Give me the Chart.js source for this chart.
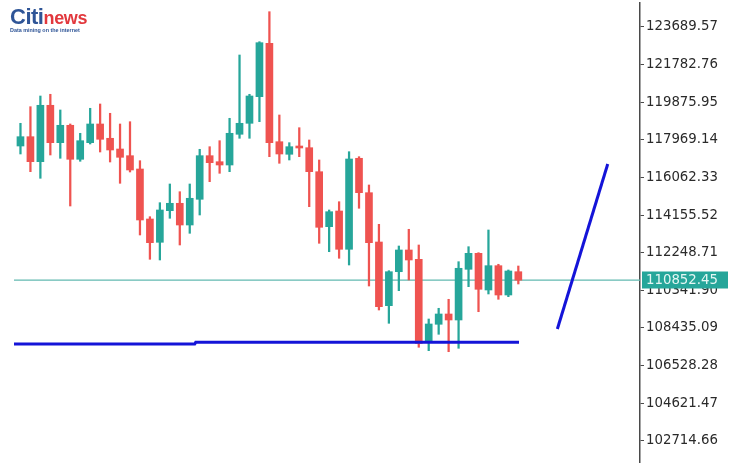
<!DOCTYPE html>
<html>
<head>
<meta charset="utf-8">
<script src="https://cdn.jsdelivr.net/npm/chart.js@4.4.1/dist/chart.umd.min.js"></script>
<style>
  html, body { margin: 0; padding: 0; background: #ffffff; }
  #wrap { position: relative; width: 740px; height: 466px; }
  #logo { position: absolute; left: 10px; top: 6px; font-family: 'Liberation Sans', Arial, sans-serif; line-height: 1; }
  #logo .citi { color: #2f5597; font-weight: bold; font-size: 22px; letter-spacing: -0.5px; }
  #logo .news { color: #e2383d; font-size: 18px; font-weight: bold; letter-spacing: -0.3px; }
  #logo .tag { color: #2f5597; font-weight: bold; font-size: 5.4px; margin-top: 0px; }
</style>
</head>
<body>
<div id="wrap">
  <canvas id="c" width="740" height="466"></canvas>
  <div id="logo"><span class="citi">Citi</span><span class="news">news</span><div class="tag">Data mining on the internet</div></div>
</div>
<script>
// Daily OHLC candles
const opens  = [117656,118128,116860,119720,117824,118706,116982,117824,118772,118047,117504,117165,116490,113955,112774,114376,114751,113651,114954,117165,116860,116693,118250,118807,120156,122863,117874,117236,117656,117570,116353,113565,114361,112419,117033,115289,112789,109560,111283,112384,111912,107734,108617,109139,108835,111405,112216,110356,111588,110102,111283];
const highs  = [118807,119649,120191,120278,119482,118772,118300,119568,119786,119314,118772,118888,116911,114072,114782,115730,115339,115730,117489,117621,117925,119061,122270,120278,122944,124465,119228,117824,118584,117961,116947,114412,114832,117367,117114,115679,113686,111334,112586,113433,112637,108885,109428,109884,111790,112551,112247,113398,111659,111370,111572];
const lows   = [117251,116353,116019,117200,117033,114614,116881,117758,117352,116845,115765,116338,113144,111912,111877,113991,112637,113230,114158,115846,116272,116353,118047,118047,118888,117114,116779,116947,117114,114579,112723,112297,111963,111623,114498,110558,109341,108667,110320,110863,107451,107278,108110,107227,107400,110523,109255,110153,109884,110016,110660];
const closes = [118128,116860,119720,117824,118706,116982,117925,118772,117996,117454,117083,116440,113905,112754,114412,114751,113651,115005,117165,116810,116693,118300,118807,120191,122894,117824,117251,117621,117555,116353,113534,114325,112419,116997,115289,112754,109509,111283,112384,111877,107653,108632,109139,108835,111456,112216,110391,111588,110102,111319,110852.45];

// Price axis labels
const tickLabels = ['102714.66','104621.47','106528.28','108435.09','110341.90','112248.71','114155.52','116062.33','117969.14','119875.95','121782.76','123689.57'];

// Hand-drawn support line and trend stroke (x in candle index units)
const supportX = [-0.65, 17.5, 17.6, 50.07];
const supportY = [107618, 107618, 107700, 107700];
const trendX = [53.92, 58.98];
const trendY = [108378, 116744];

const UP = '#26a69a';
const DOWN = '#ef5350';
const lastPrice = closes[closes.length - 1];

const idx = opens.map((_, i) => i);
const bodies = idx.map(i => ({ x: i, y: [opens[i], closes[i]] }));
const wicks = idx.map(i => ({ x: i, y: [lows[i], highs[i]] }));
const candleColor = idx.map(i => closes[i] >= opens[i] ? UP : DOWN);

const xMin = -0.65, xMax = 62.22;

const priceTag = {
  id: 'priceTag',
  afterDraw(chart) {
    const y = chart.scales.y.getPixelForValue(lastPrice);
    const ctx = chart.ctx;
    const left = chart.chartArea.right + 2;
    ctx.save();
    ctx.fillStyle = '#26a69a';
    ctx.fillRect(left, Math.round(y) - 8.5, 86, 17);
    ctx.fillStyle = '#e4f6f3';
    ctx.font = '13.3px "DejaVu Sans"';
    ctx.textBaseline = 'middle';
    ctx.textAlign = 'left';
    ctx.fillText(lastPrice.toFixed(2), left + 4, Math.round(y) + 0.5);
    ctx.restore();
  }
};

new Chart(document.getElementById('c'), {
  type: 'bar',
  data: {
    datasets: [
      {
        type: 'line',
        data: supportX.map((x, i) => ({ x, y: supportY[i] })),
        borderColor: '#1414d8',
        borderWidth: 3,
        pointRadius: 0,
        tension: 0,
        order: 0
      },
      {
        type: 'line',
        data: trendX.map((x, i) => ({ x, y: trendY[i] })),
        borderColor: '#1414d8',
        borderWidth: 3,
        pointRadius: 0,
        tension: 0,
        order: 0
      },
      {
        data: bodies,
        backgroundColor: candleColor,
        barThickness: 7,
        grouped: false,
        borderWidth: 0,
        borderSkipped: false,
        order: 1
      },
      {
        data: wicks,
        backgroundColor: candleColor,
        barThickness: 1.6,
        grouped: false,
        borderWidth: 0,
        borderSkipped: false,
        order: 2
      },
      {
        type: 'line',
        data: [{ x: xMin, y: lastPrice }, { x: xMax, y: lastPrice }],
        borderColor: '#62b9b0',
        borderWidth: 1.2,
        pointRadius: 0,
        order: 3
      }
    ]
  },
  options: {
    responsive: false,
    animation: false,
    events: [],
    layout: { padding: { left: 14, top: 3, bottom: 4, right: 0 } },
    plugins: { legend: { display: false }, tooltip: { enabled: false } },
    scales: {
      x: {
        type: 'linear',
        display: false,
        min: xMin,
        max: xMax,
        offset: false
      },
      y: {
        position: 'right',
        min: 101635,
        max: 124906,
        afterBuildTicks: (scale) => { scale.ticks = tickLabels.map(t => ({ value: Number(t) })); },
        afterFit: (scale) => {
          scale.width = 100;
          scale.paddingTop = 0;
          scale.paddingBottom = 0;
        },
        border: { display: true, color: '#4a4a4a', width: 1.5 },
        grid: { drawOnChartArea: false, drawTicks: true, tickLength: 4, color: '#4a4a4a', tickWidth: 1 },
        ticks: {
          padding: 2,
          color: '#2a2a2a',
          font: { family: 'DejaVu Sans', size: 13.3 },
          callback: (v, i) => tickLabels[i]
        }
      }
    }
  },
  plugins: [priceTag]
});
</script>
</body>
</html>
